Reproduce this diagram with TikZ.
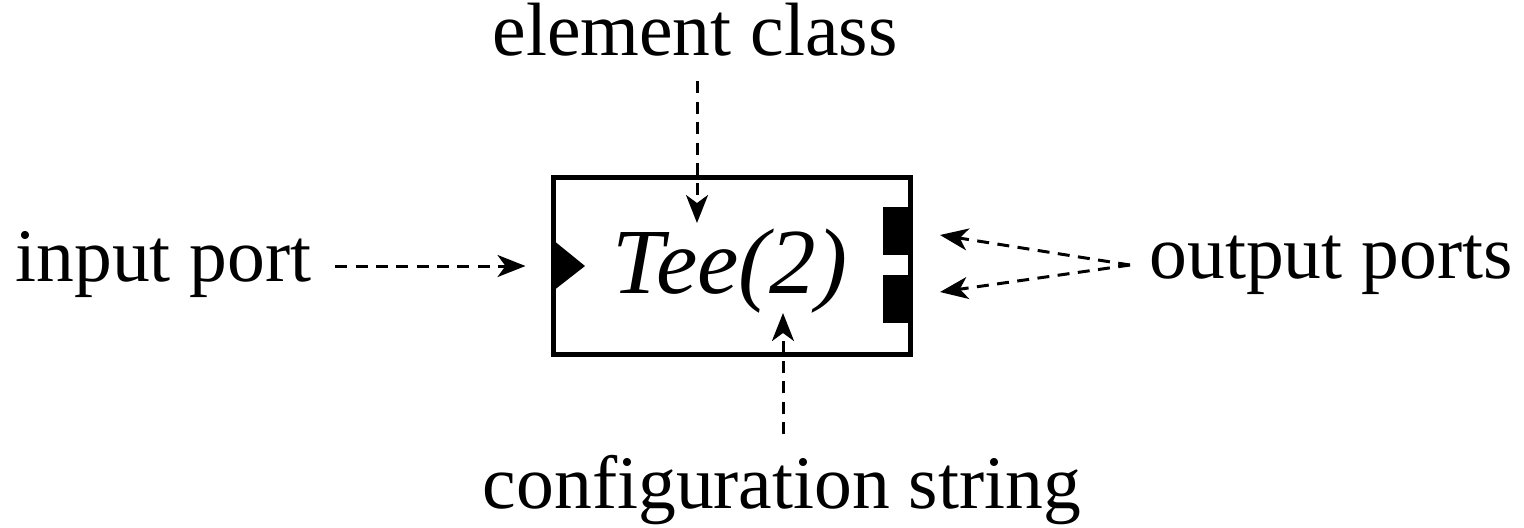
\documentclass[tikz,border=0pt]{standalone}
\usepackage{fontspec}
\setmainfont{Liberation Serif}
\usetikzlibrary{arrows.meta}

\begin{document}
\begin{tikzpicture}[
    block/.style={draw, line width=1.5pt, minimum width=3.57cm, minimum height=1.77cm, inner sep=0pt, outer sep=0pt},
    elemtext/.style={font=\fontsize{26.5}{31}\selectfont\itshape, inner sep=0pt, anchor=base},
    caption/.style={font=\fontsize{21.5}{26}\selectfont, inner sep=0pt, anchor=base},
    ptr/.style={-{Stealth[length=0.28cm, width=0.22cm, inset=0.08cm]}, line width=0.85pt, dash pattern=on 3.4pt off 2.4pt}
]
    \useasboundingbox (0,0) rectangle (15.24,-5.27);

    % Element
    \node[block] (tee) at (7.32,-2.66) {};
    \node[elemtext] (cls) at (7.30,-2.93) {Tee(2)};
    \fill (5.53,-2.40) -- (5.85,-2.66) -- (5.53,-2.91) -- cycle;
    \fill (8.83,-2.07) rectangle (9.10,-2.55);
    \fill (8.83,-2.75) rectangle (9.10,-3.23);

    % Labels
    \node[caption] (elem) at (6.95,-0.55) {element class};
    \node[caption] (inp) at (1.635,-2.81) {input port};
    \node[caption] (outp) at (13.31,-2.78) {output ports};
    \node[caption] (conf) at (7.82,-5.08) {configuration string};

    % Tips
    \coordinate (clsTip) at (6.97,-2.23);
    \coordinate (confTip) at (7.83,-3.13);
    \coordinate (outTipA) at (9.40,-2.35);
    \coordinate (outTipB) at (9.40,-2.92);
    \coordinate (fork) at (11.30,-2.65);

    % Pointers
    \draw[ptr, shorten <=0.25cm] (elem.south -| clsTip) -- (clsTip);
    \draw[ptr, shorten <=0.2cm] (conf.north -| confTip) -- (confTip);
    \draw[ptr, shorten <=0.23cm, shorten >=0.28cm] (inp.east |- tee.west) -- (tee.west);
    \draw[ptr] (fork) -- (outTipA);
    \draw[ptr] (fork) -- (outTipB);
\end{tikzpicture}
\end{document}
